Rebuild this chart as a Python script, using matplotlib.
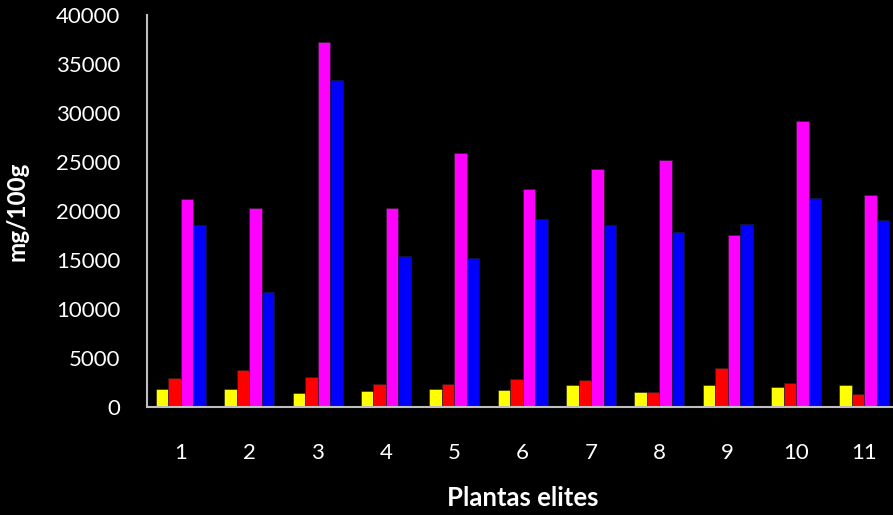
import matplotlib
matplotlib.use("Agg")
import matplotlib.pyplot as plt
import numpy as np

plt.rcParams["font.family"] = ["Lato", "DejaVu Sans"]

# Elite plant numbers and measured contents (mg/100g) for four components
plants = ["1", "2", "3", "4", "5", "6", "7", "8", "9", "10", "11"]
yellow_vals = [1830, 1830, 1430, 1630, 1900, 1730, 2270, 1560, 2240, 2040, 2240]
red_vals = [3020, 3830, 3060, 2380, 2380, 2850, 2780, 1560, 4040, 2450, 1330]
magenta_vals = [21200, 20300, 37240, 20290, 25920, 22250, 24260, 25180, 17600, 29180, 21610]
blue_vals = [18550, 11750, 33330, 15450, 15220, 19190, 18580, 17870, 18720, 21340, 19060]

series = [
    (yellow_vals, "#ffff00"),
    (red_vals, "#ff0000"),
    (magenta_vals, "#ff00ff"),
    (blue_vals, "#0000ff"),
]

fig = plt.figure(figsize=(8.93, 5.15), dpi=100, facecolor="black")
ax = fig.add_axes([0.1643, 0.2091, 0.842, 0.7617], facecolor="black")

x = np.arange(1, len(plants) + 1)
width = 0.183
for i, (vals, color) in enumerate(series):
    ax.bar(x + (i - 1.5) * width, vals, width=width, color=color,
           edgecolor="#202020", linewidth=0.4, zorder=2)

ax.set_xlim(0.5, len(plants) + 0.5)
ax.set_ylim(0, 40000)
ax.set_yticks(np.arange(0, 40001, 5000))
ax.set_xticks(x)
ax.set_xticklabels(plants)

for side in ("top", "right"):
    ax.spines[side].set_visible(False)
for side in ("left", "bottom"):
    ax.spines[side].set_color("#bfbfbf")
    ax.spines[side].set_linewidth(1.5)
    ax.spines[side].set_zorder(3)

ax.tick_params(axis="both", length=0, colors="white", labelsize=16)
ax.tick_params(axis="y", pad=19)
ax.tick_params(axis="x", pad=26)

ax.set_xlabel("Plantas elites", color="white", fontsize=18.5, fontweight="bold", labelpad=16)
ax.set_ylabel("mg/100g", color="white", fontsize=17.5, fontweight="bold", labelpad=20)

fig.savefig("out.png", dpi=100, facecolor="black")
